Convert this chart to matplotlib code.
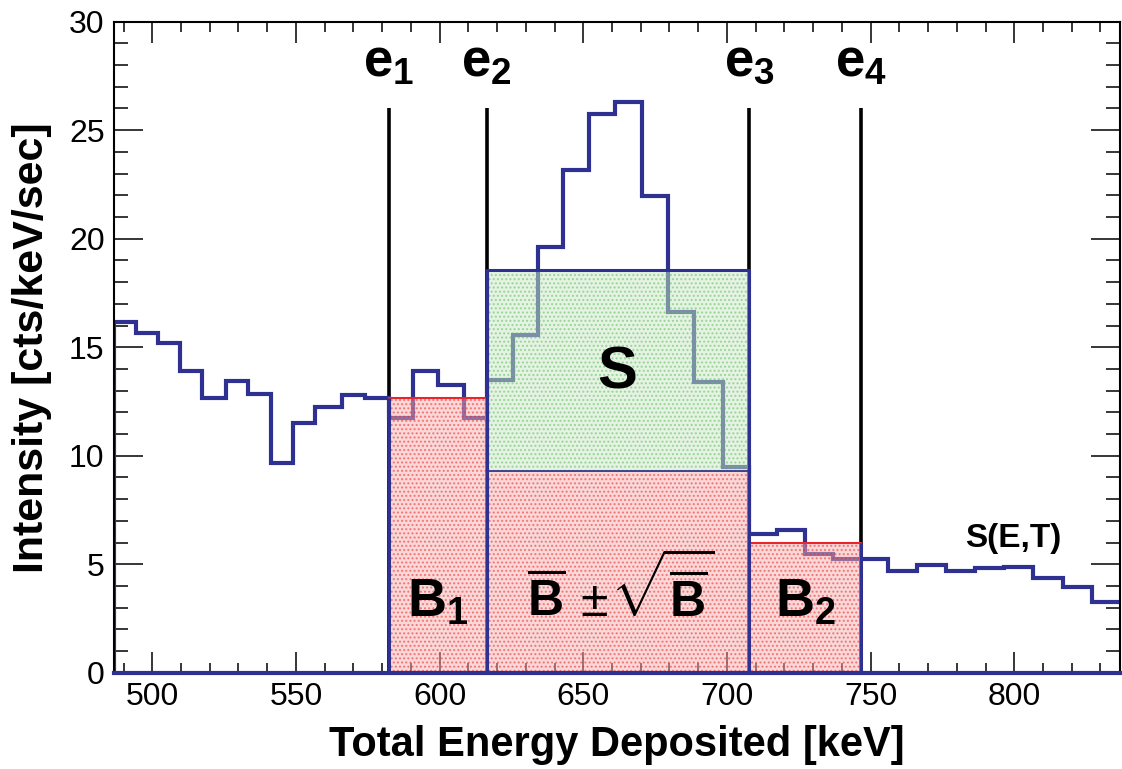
import numpy as np
import matplotlib
matplotlib.use("Agg")
import matplotlib.pyplot as plt
from matplotlib.ticker import MultipleLocator

plt.rcParams['font.family'] = ['Liberation Sans', 'DejaVu Sans']
plt.rcParams['mathtext.fontset'] = 'custom'
plt.rcParams['mathtext.rm'] = 'Liberation Sans'
plt.rcParams['mathtext.bf'] = 'Liberation Sans:bold'
plt.rcParams['hatch.linewidth'] = 1.0

# histogram S(E,T): bin edges [keV] and intensity per bin
bin_edges = [486.8, 494.3, 501.9, 509.6, 517.4, 525.5, 533.2, 541.2, 548.9,
             556.6, 565.9, 574.0, 582.4, 590.7, 599.3, 608.4, 616.4, 625.4,
             634.4, 643.1, 652.1, 661.1, 670.6, 679.6, 688.7, 698.5, 707.7,
             717.3, 727.2, 737.0, 746.6, 756.2, 766.3, 776.2, 786.4, 796.4,
             806.6, 816.9, 827.0, 837.5]
intensity = [16.17, 15.64, 15.21, 13.90, 12.67, 13.44, 12.83, 9.65, 11.52,
             12.26, 12.80, 12.64, 11.72, 13.92, 13.26, 11.72, 13.49, 15.56,
             19.60, 23.17, 25.75, 26.30, 21.97, 16.64, 13.41, 9.46, 6.38,
             6.58, 5.47, 5.24, 5.24, 4.69, 4.96, 4.69, 4.81, 4.89, 4.38,
             3.93, 3.24]

# window edges e1..e4 and box levels
e_pos = [582.4, 616.4, 707.7, 746.6]
e_names = ['1', '2', '3', '4']
b1_level = 12.67
bbar_level = 9.31
s_level = 18.56
b2_level = 5.99

navy = '#2E3192'
red = '#E8262B'
pink = '#F6B3B3'
green = '#CBE8C6'

fig = plt.figure(figsize=(11.22, 7.69), dpi=100)
ax = fig.add_axes([0.1019, 0.1252, 0.8963, 0.8466])

# e lines
ax.vlines(e_pos, 0, 26.0, color='black', lw=2.6, zorder=1)
for x, n in zip(e_pos, e_names):
    ax.text(x, 27.5, r'$\mathbf{e}_{\mathbf{%s}}$' % n, ha='center', va='baseline',
            fontsize=38, zorder=6)

# spectrum
ax.stairs(intensity, bin_edges, color=navy, lw=3, zorder=2)

# boxes
ax.bar(e_pos[0], b1_level, width=e_pos[1] - e_pos[0], align='edge',
       facecolor=pink, alpha=0.5, edgecolor=red, hatch='....', lw=1.2, zorder=3)
ax.bar(e_pos[1], bbar_level, width=e_pos[2] - e_pos[1], align='edge',
       facecolor=pink, alpha=0.5, edgecolor=red, hatch='....', lw=1.2, zorder=3)
ax.bar(e_pos[1], s_level - bbar_level, bottom=bbar_level, width=e_pos[2] - e_pos[1],
       align='edge', facecolor=green, alpha=0.5, edgecolor='#5DBB5D', hatch='....',
       lw=0.8, zorder=3)
ax.bar(e_pos[2], b2_level, width=e_pos[3] - e_pos[2], align='edge',
       facecolor=pink, alpha=0.5, edgecolor=red, hatch='....', lw=1.2, zorder=3)

# box outlines
ax.plot([e_pos[1], e_pos[1], e_pos[2], e_pos[2]], [bbar_level, s_level, s_level, bbar_level],
        color=navy, lw=2.2, zorder=4)
ax.plot([e_pos[1], e_pos[2]], [bbar_level, bbar_level], color=navy, lw=1.2, zorder=4)
ax.plot([e_pos[0], e_pos[1]], [b1_level, b1_level], color=red, lw=1.5, zorder=4)
ax.plot([e_pos[2], e_pos[3]], [b2_level, b2_level], color=red, lw=1.5, zorder=4)
ax.vlines(e_pos, 0, [b1_level, s_level, s_level, b2_level], color=navy, lw=2.2, zorder=4)

# labels inside
ax.text(661.9, 13.12, 'S', ha='center', va='baseline', fontsize=43,
        fontweight='bold', zorder=6)
ax.text(599.4, 2.58, r'$\mathbf{B}_{\mathbf{1}}$', ha='center', va='baseline',
        fontsize=39, zorder=6)
ax.text(663.0, 2.58, r'$\overline{\mathbf{B}}\,\pm\!\sqrt{\overline{\mathbf{B}}}$',
        ha='center', va='baseline', fontsize=36, zorder=6)
ax.text(727.2, 2.58, r'$\mathbf{B}_{\mathbf{2}}$', ha='center', va='baseline',
        fontsize=39, zorder=6)
ax.text(799.6, 5.81, 'S(E,T)', ha='center', va='baseline', fontsize=24,
        fontweight='bold', zorder=6)

ax.set_xlim(486.8, 836.8)
ax.set_ylim(0, 30)
ax.xaxis.set_major_locator(MultipleLocator(50))
ax.xaxis.set_minor_locator(MultipleLocator(10))
ax.yaxis.set_major_locator(MultipleLocator(5))
ax.yaxis.set_minor_locator(MultipleLocator(1))
ax.tick_params(axis='both', which='both', direction='in', top=True, right=True,
               width=1.1, labelsize=23)
ax.tick_params(axis='x', which='major', length=15, pad=7)
ax.tick_params(axis='x', which='minor', length=7.5)
ax.tick_params(axis='y', which='major', length=21, pad=7)
ax.tick_params(axis='y', which='minor', length=10)

for s in ax.spines.values():
    s.set_linewidth(1.5)
ax.spines['bottom'].set_color(navy)
ax.spines['bottom'].set_linewidth(3)
ax.spines['bottom'].set_zorder(5)

ax.set_xlabel('Total Energy Deposited [keV]', fontsize=30, fontweight='bold')
ax.xaxis.set_label_coords(0.5, -0.08)
ax.set_ylabel('Intensity [cts/keV/sec]', fontsize=31, fontweight='bold')
ax.yaxis.set_label_coords(-0.062, 0.5)

fig.savefig('out.png', dpi=100)
